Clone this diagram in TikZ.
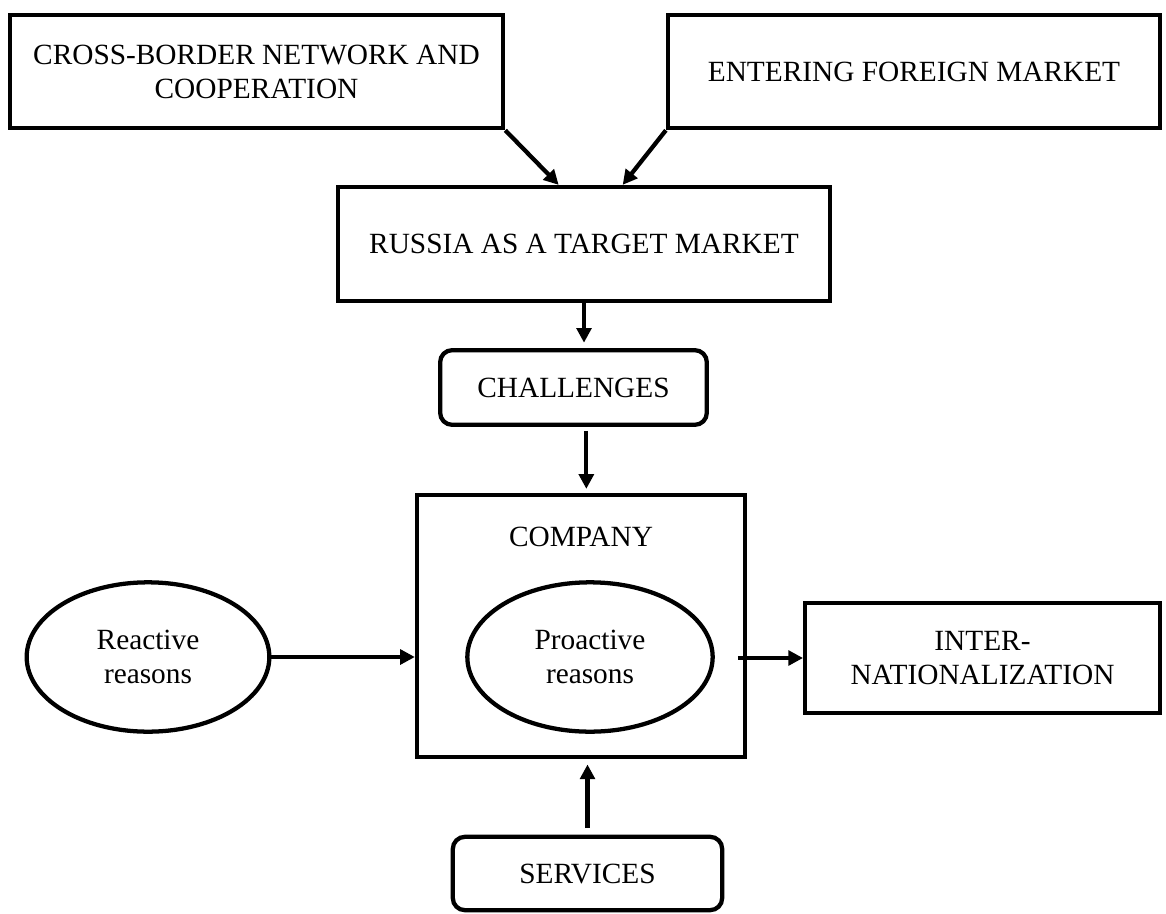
\documentclass[tikz,border=0pt]{standalone}
\usepackage{fontspec}
\setmainfont{Liberation Serif}
\usepackage{tikz}
\usetikzlibrary{positioning,shapes.geometric,arrows.meta}

\begin{document}
\begin{tikzpicture}[x=0.75pt,y=0.75pt,yscale=-1,xscale=1,
  font=\fontsize{22pt}{25.5pt}\selectfont,
  box/.style={draw, line width=3.2pt, align=center, inner sep=0pt},
  roundbox/.style={box, rounded corners=9pt},
  reason/.style={draw, line width=3.2pt, ellipse, align=center, inner sep=0pt},
  arr/.style={line width=3.2pt, -{Triangle[length=11pt,width=11pt]}}]
%set diagram left start at 0, and has height of 913
\useasboundingbox (0,0) rectangle (1166,913);

%Shape: Rectangle
\node [box, minimum width=370pt, minimum height=85pt] (cross) at (256.5,71.5) {CROSS-BORDER NETWORK AND\\COOPERATION};
%Shape: Rectangle
\node [box, minimum width=369pt, minimum height=85pt] (entering) at (914,71.5) {ENTERING FOREIGN MARKET};
%Shape: Rectangle
\node [box, minimum width=369pt, minimum height=85.5pt] (russia) at (584,244) {RUSSIA AS A TARGET MARKET};
%Shape: Rounded Rect
\node [roundbox, minimum width=200pt, minimum height=56pt] (challenges) at (573.5,387.5) {CHALLENGES};
%Shape: Rectangle
\node [box, minimum width=246pt, minimum height=196.5pt] (company) at (581,626) {};
\node (companytext) at (581,537) {COMPANY};
%Shape: Ellipse
\node [reason, minimum width=184pt, minimum height=112pt] (proactive) at (590,657) {Proactive\\reasons};
%Shape: Ellipse
\node [reason, minimum width=182pt, minimum height=112pt] (reactive) at (148,657) {Reactive\\reasons};
%Shape: Rectangle
\node [box, minimum width=266pt, minimum height=82.5pt] (inter) at (982.5,658) {INTER-\\NATIONALIZATION};
%Shape: Rounded Rect
\node [roundbox, minimum width=202pt, minimum height=55pt] (services) at (587.5,873.5) {SERVICES};

%Straight Lines
\draw [arr] (cross.south east) -- ([xshift=-19]russia.north) ;
%Straight Lines
\draw [arr] (entering.south west) -- ([xshift=29]russia.north) ;
%Straight Lines
\draw [arr, shorten >=4pt] (russia.south) -- (russia.south |- challenges.north) ;
%Straight Lines
\draw [arr, shorten <=3pt, shorten >=3pt] ([xshift=4]company.north |- challenges.south) -- ([xshift=4]company.north) ;
%Straight Lines
\draw [arr] (reactive.east) -- (reactive.east -| company.west) ;
%Straight Lines
\draw [arr] ([xshift=-7]company.east |- inter.west) -- (inter.west) ;
%Straight Lines
\draw [arr, shorten <=5pt, shorten >=4pt] (services.north) -- (services.north |- company.south) ;

\end{tikzpicture}
\end{document}
